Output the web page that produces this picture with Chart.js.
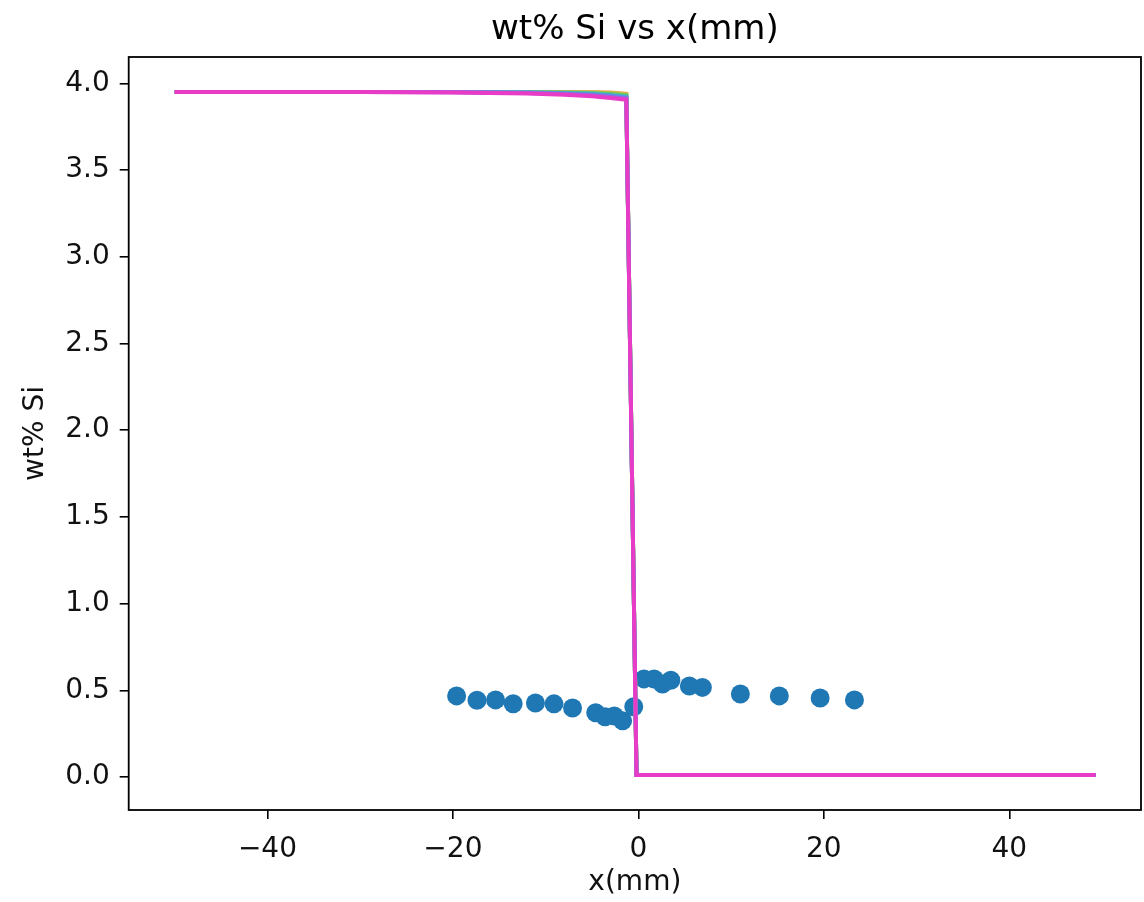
<!DOCTYPE html>
<html>
<head>
<meta charset="utf-8">
<script src="https://cdn.jsdelivr.net/npm/chart.js@4.4.1/dist/chart.umd.min.js"></script>
<style>
  html, body { margin: 0; padding: 0; background: #fff; overflow: hidden; }
  #wrap { width: 1144px; height: 902px; }
</style>
</head>
<body>
<div id="wrap"><canvas id="chart" width="1144" height="902"></canvas></div>
<script>
// ── Data ─────────────────────────────────────────────────────────────────
const xTicks = [-40, -20, 0, 20, 40];
const yTicks = [0.0, 0.5, 1.0, 1.5, 2.0, 2.5, 3.0, 3.5, 4.0];

// measured points
const measX = [-19.6, -17.4, -15.4, -13.5, -11.1, -9.1, -7.1, -4.6, -3.6, -2.6, -1.7, -0.5,
               0.6, 1.7, 2.6, 3.5, 5.5, 6.9, 11.0, 15.2, 19.6, 23.3];
const measY = [0.468, 0.443, 0.445, 0.423, 0.427, 0.422, 0.398, 0.371, 0.348, 0.352, 0.324, 0.405,
               0.566, 0.565, 0.537, 0.558, 0.525, 0.517, 0.479, 0.468, 0.456, 0.445];

// simulated profiles (one per time step)
const profileX = [-50, -30, -20, -12, -8, -5, -3, -1.3, -0.2, 49.3];
const profile1 = [3.95, 3.95, 3.95, 3.95, 3.95, 3.949, 3.947, 3.940, 0.012, 0.012];
const profile2 = [3.95, 3.95, 3.95, 3.95, 3.949, 3.947, 3.944, 3.935, 0.012, 0.012];
const profile3 = [3.95, 3.95, 3.95, 3.949, 3.947, 3.944, 3.939, 3.930, 0.012, 0.012];
const profile4 = [3.95, 3.95, 3.95, 3.948, 3.945, 3.940, 3.933, 3.924, 0.012, 0.012];
const profile5 = [3.95, 3.95, 3.95, 3.947, 3.942, 3.936, 3.928, 3.918, 0.012, 0.012];
const profile6 = [3.95, 3.95, 3.949, 3.945, 3.939, 3.931, 3.922, 3.912, 0.012, 0.012];
const profile7 = [3.95, 3.95, 3.948, 3.942, 3.934, 3.925, 3.916, 3.906, 0.012, 0.012];
const profiles = [profile1, profile2, profile3, profile4, profile5, profile6, profile7];
const profileColors = ['#ee9a48', '#c2c23c', '#66c46a', '#3fbcb8', '#5b8fe6', '#9d62e2', '#e83cc6'];

const measColor = '#1f77b4';
const fontFamily = '"DejaVu Sans", sans-serif';

// ── Helpers ──────────────────────────────────────────────────────────────
const toPoints = (xs, ys) => xs.map((x, i) => ({ x: x, y: ys[i] }));
const fmtX = v => (v < 0 ? '\u2212' + Math.abs(v) : String(v));

const frame = {
    id: 'frame',
    afterDatasetsDraw: (chart) => {
        const { ctx, chartArea: a } = chart;
        ctx.save();
        ctx.strokeStyle = '#000';
        ctx.lineWidth = 1.8;
        ctx.strokeRect(a.left, a.top, a.right - a.left, a.bottom - a.top);
        ctx.restore();
    }
};

// ── Chart ────────────────────────────────────────────────────────────────
const datasets = [{
    label: 'measured',
    data: toPoints(measX, measY),
    backgroundColor: measColor,
    borderColor: measColor,
    pointRadius: 9.5,
    borderWidth: 0,
    showLine: false,
    order: 20
}];

profiles.forEach((p, i) => {
    datasets.push({
        label: 't' + i,
        data: toPoints(profileX, p),
        borderColor: profileColors[i],
        backgroundColor: profileColors[i],
        borderWidth: 4,
        pointRadius: 0,
        showLine: true,
        tension: 0,
        order: profiles.length - i
    });
});

new Chart(document.getElementById('chart'), {
    type: 'scatter',
    data: { datasets: datasets },
    options: {
        responsive: false,
        animation: false,
        layout: { autoPadding: false, padding: { left: 0, right: 3, top: 0, bottom: 0 } },
        plugins: {
            legend: { display: false },
            tooltip: { enabled: false },
            title: {
                display: true,
                text: 'wt% Si vs x(mm)',
                fullSize: false,
                color: '#000',
                font: { family: fontFamily, size: 34, weight: 'normal' },
                padding: { top: 9.6, bottom: 6.6 }
            }
        },
        scales: {
            x: {
                type: 'linear',
                min: -54.96,
                max: 54.2,
                border: { display: false },
                grid: { drawOnChartArea: false, drawTicks: true, tickLength: 9, color: '#000', lineWidth: 1.6 },
                ticks: {
                    color: '#111',
                    padding: 14,
                    font: { family: fontFamily, size: 28 },
                    callback: v => fmtX(v)
                },
                afterBuildTicks: (scale) => { scale.ticks = xTicks.map(v => ({ value: v })); },
                afterFit: (scale) => {
                    scale.height = 92;
                    scale.paddingLeft = 0;
                    scale.paddingRight = 0;
                },
                title: {
                    display: true,
                    text: 'x(mm)',
                    color: '#111',
                    font: { family: fontFamily, size: 28 },
                    padding: { top: 0, bottom: 2 }
                }
            },
            y: {
                type: 'linear',
                min: -0.19,
                max: 4.152,
                border: { display: false },
                grid: { drawOnChartArea: false, drawTicks: true, tickLength: 9, color: '#000', lineWidth: 1.6 },
                ticks: {
                    color: '#111',
                    padding: 10,
                    font: { family: fontFamily, size: 28 },
                    callback: v => v.toFixed(1)
                },
                afterBuildTicks: (scale) => { scale.ticks = yTicks.map(v => ({ value: v })); },
                afterFit: (scale) => {
                    scale.width = 128.7;
                    scale.paddingTop = 0;
                    scale.paddingBottom = 0;
                },
                title: {
                    display: true,
                    text: 'wt% Si',
                    color: '#111',
                    font: { family: fontFamily, size: 28 },
                    padding: { top: 19, bottom: 0 }
                }
            }
        }
    },
    plugins: [frame]
});
</script>
</body>
</html>
